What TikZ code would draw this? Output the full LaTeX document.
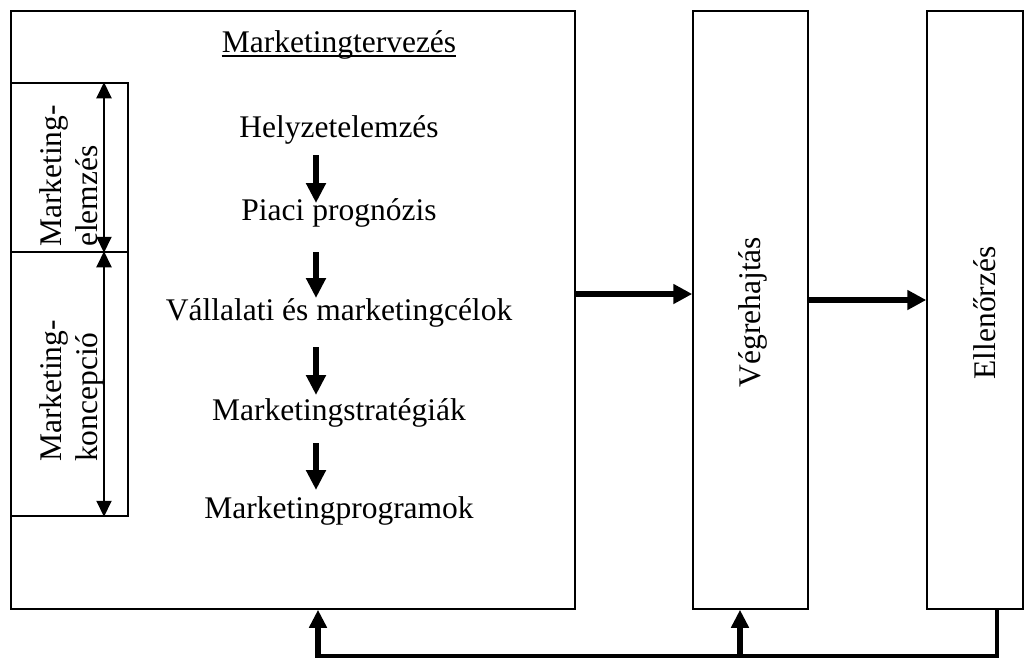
\documentclass[tikz,border=0pt]{standalone}
\usepackage{fontspec}
\setmainfont{Liberation Serif}
\usetikzlibrary{arrows.meta,calc}

\begin{document}
\begin{tikzpicture}[x=1pt,y=-1pt,
  frame/.style={draw,line width=1.5pt,inner sep=0pt,minimum width=#1},
  lbl/.style={inner sep=0pt,font=\fontsize{31.5}{36.2}\selectfont},
  downarrow/.style={line width=6pt,-{Triangle[length=20pt,width=19pt]}},
  sidearrow/.style={line width=6pt,-{Triangle[length=19pt,width=19pt]}},
  span/.style={line width=2pt,{Triangle[length=16pt,width=15pt]}-{Triangle[length=16pt,width=15pt]}},
  feedback/.style={line width=4pt},
  backarrow/.style={line width=6pt,-{Triangle[length=18pt,width=17pt]}}
]
\useasboundingbox (0,0) rectangle (1034,659);

% the three stages
\node[frame=564pt,minimum height=598pt] (plan) at (293,310) {};
\node[frame=115pt,minimum height=598pt] (exec) at (750.5,310) {};
\node[frame=96pt,minimum height=598pt] (ctrl) at (975,310) {};

% analysis / concept side panels
\node[frame=117pt,minimum height=169pt] (ana) at (69.5,167.5) {};
\node[frame=117pt,minimum height=264pt] (conc) at (69.5,384) {};

% planning title
\node[lbl,anchor=base] (title) at (339,52) {Marketingtervezés};
\draw[line width=1.5pt] ($(title.base west)+(0,4)$) -- ($(title.base east)+(0,4)$);

% planning steps
\node[lbl,anchor=base] (s1) at (339,137) {Helyzetelemzés};
\node[lbl,anchor=base] (s2) at (339,220) {Piaci prognózis};
\node[lbl,anchor=base] (s3) at (339,320) {Vállalati és marketingcélok};
\node[lbl,anchor=base] (s4) at (339,420) {Marketingstratégiák};
\node[lbl,anchor=base] (s5) at (339,518) {Marketingprogramok};

\coordinate (col) at (316,0);
\draw[downarrow] ($(s1.base -| col)+(0,18)$) -- ($(s2.base -| col)+(0,-17)$);
\draw[downarrow] ($(s2.base -| col)+(0,32)$) -- ($(s3.base -| col)+(0,-22)$);
\draw[downarrow] ($(s3.base -| col)+(0,27)$) -- ($(s4.base -| col)+(0,-25)$);
\draw[downarrow] ($(s4.base -| col)+(0,23)$) -- ($(s5.base -| col)+(0,-28)$);

% side panel labels and spans
\node[lbl,rotate=90,anchor=north west,align=left] (anatext) at (39,247) {Marketing-\\elemzés};
\node[lbl,rotate=90,anchor=north west,align=left] (conctext) at (39,462) {Marketing-\\koncepció};
\draw[span] ($(ana.north)+(34.5,0)$) -- ($(ana.south)+(34.5,0)$);
\draw[span] ($(conc.north)+(34.5,0)$) -- ($(conc.south)+(34.5,0)$);

% stage labels
\node[lbl,rotate=90] (exectext) at (753,312) {Végrehajtás};
\node[lbl,rotate=90] (ctrltext) at (985,313) {Ellenőrzés};

% forward flow
\draw[sidearrow] ($(plan.east)+(0,-16)$) -- ($(exec.west)+(0,-16)$);
\draw[sidearrow] ($(exec.east)+(0,-10)$) -- ($(ctrl.west)+(0,-10)$);

% feedback loop
\coordinate (fb) at (318,655.5);
\coordinate (ex) at ($(exec.south)+(-10.5,0)$);
\draw[feedback] ($(ctrl.south)+(22,0)$) |- (fb);
\draw[backarrow] ($(fb)+(0,2)$) -- (fb |- plan.south);
\draw[backarrow] ($(ex |- fb)+(0,2)$) -- (ex);
\end{tikzpicture}
\end{document}
